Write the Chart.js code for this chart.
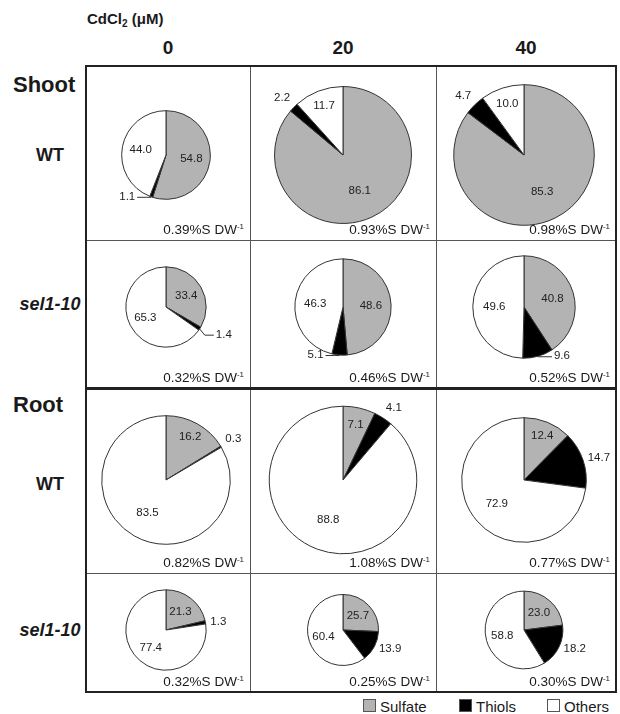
<!DOCTYPE html>
<html>
<head>
<meta charset="utf-8">
<script src="https://cdn.jsdelivr.net/npm/chart.js@4.4.1/dist/chart.umd.min.js"></script>
<style>
  body { margin: 0; background: #fff; }
  #fig { position: relative; width: 620px; height: 714px; font-family: "Liberation Sans", Arial, sans-serif; color: #1a1a1a; overflow: hidden; }
  .t { position: absolute; white-space: nowrap; line-height: 1; }
  .ln { position: absolute; background: #555; z-index: 2; }
  .thick { background: #222; }
  canvas { position: absolute; z-index: 1; }
  sup { font-size: 8px; vertical-align: 5px; }
  sub { font-size: 10px; vertical-align: -3px; }
  .box { position: absolute; width: 11px; height: 11px; border: 1px solid #555; }
</style>
</head>
<body>
<div id="fig"></div>
<script>
// grid: rows = Shoot WT, Shoot sel1-10, Root WT, Root sel1-10 ; cols = CdCl2 dose
const doses = ['0', '20', '40'];
const tissues = ['Shoot', 'Root'];
const genotypes = ['WT', 'sel1-10'];
const fractions = ['Sulfate', 'Thiols', 'Others'];

const sulfate = [[54.8, 86.1, 85.3], [33.4, 48.6, 40.8], [16.2, 7.1, 12.4], [21.3, 25.7, 23.0]];
const thiols  = [[1.1, 2.2, 4.7],    [1.4, 5.1, 9.6],    [0.3, 4.1, 14.7], [1.3, 13.9, 18.2]];
const others  = [[44.0, 11.7, 10.0], [65.3, 46.3, 49.6], [83.5, 88.8, 72.9], [77.4, 60.4, 58.8]];
const totalS  = [[0.39, 0.93, 0.98], [0.32, 0.46, 0.52], [0.82, 1.08, 0.77], [0.32, 0.25, 0.30]];

const COLORS = ['#b3b3b3', '#000000', '#ffffff'];
const FONT = '"Liberation Sans", Arial, sans-serif';

// layout (px)
const colX = [86, 250, 436, 616];
const rowY = [66, 240, 388, 573, 692];
const pieCx = [166, 343, 524];
const pieCy = [155, 307, 480, 630];
const R_SCALE = 71; // pie area proportional to total S

const fig = document.getElementById('fig');

function text(html, x, y, style, align) {
  const d = document.createElement('div');
  d.className = 't';
  d.innerHTML = html;
  d.style.cssText += style;
  d.style.left = x + 'px';
  d.style.top = y + 'px';
  const tx = align === 'left' ? '0' : align === 'right' ? '-100%' : '-50%';
  d.style.transform = `translate(${tx}, -50%)`;
  fig.appendChild(d);
}

function line(x, y, w, h, thick) {
  const d = document.createElement('div');
  d.className = 'ln' + (thick ? ' thick' : '');
  Object.assign(d.style, { left: x + 'px', top: y + 'px', width: w + 'px', height: h + 'px' });
  fig.appendChild(d);
}

// headers
text('CdCl<sub>2</sub> (μM)', 87, 20, 'font-weight:bold;font-size:15px;', 'left');
doses.forEach((d, c) => text(d, (colX[c] + colX[c + 1]) / 2, 47, 'font-weight:bold;font-size:19px;', 'center'));
tissues.forEach((t, i) => text(t, 13, i === 0 ? 85 : 405, 'font-weight:bold;font-size:22px;', 'left'));
[155, 304, 484, 630].forEach((y, r) => {
  const g = genotypes[r % 2];
  text(g, 50, y, 'font-weight:bold;font-size:18px;' + (r % 2 ? 'font-style:italic;' : ''), 'center');
});

// grid lines
const W = colX[3] - colX[0];
line(colX[0], rowY[1], W, 1);
line(colX[0], rowY[3], W, 1);
line(colX[1], rowY[0], 1, rowY[4] - rowY[0]);
line(colX[2], rowY[0], 1, rowY[4] - rowY[0]);
line(colX[0] - 1, rowY[0] - 1, W + 2, 2, true);
line(colX[0] - 1, rowY[4] - 1, W + 2, 2, true);
line(colX[0] - 1, rowY[0] - 1, 2, rowY[4] - rowY[0] + 2, true);
line(colX[3] - 1, rowY[0] - 1, 2, rowY[4] - rowY[0] + 2, true);
line(colX[0] - 1, rowY[2] - 1, W + 2, 3, true);

// slice labels: inside for sulfate/others, outside for thiols
const sliceLabels = {
  id: 'sliceLabels',
  afterDatasetsDraw(chart) {
    const ctx = chart.ctx;
    const arcs = chart.getDatasetMeta(0).data;
    const vals = chart.data.datasets[0].data;
    ctx.save();
    ctx.font = '11.5px ' + FONT;
    ctx.fillStyle = '#222';
    ctx.strokeStyle = '#333';
    ctx.lineWidth = 1;
    arcs.forEach((arc, i) => {
      const p = arc.getProps(['x', 'y', 'startAngle', 'endAngle', 'outerRadius'], true);
      const mid = (p.startAngle + p.endAngle) / 2;
      const cos = Math.cos(mid), sin = Math.sin(mid), r = p.outerRadius;
      const txt = vals[i].toFixed(1);
      if (i !== 1) {
        const f = vals[i] < 20 ? 0.77 : 0.58;
        ctx.textAlign = 'center';
        ctx.textBaseline = 'middle';
        ctx.fillText(txt, p.x + cos * r * f, p.y + sin * r * f);
      } else if (sin > 0.5) {
        const ex = p.x + cos * r, ey = p.y + sin * r;
        const dir = cos < 0 ? -1 : 1;
        const ly = ey + (sin < 0.9 ? 6 : 0);
        ctx.beginPath();
        ctx.moveTo(ex, ey + 0.5);
        ctx.lineTo(ex + dir * 5, ly + 0.5);
        ctx.lineTo(ex + dir * 14, ly + 0.5);
        ctx.stroke();
        ctx.textAlign = dir < 0 ? 'right' : 'left';
        ctx.textBaseline = 'middle';
        ctx.fillText(txt, ex + dir * 16, ly);
      } else {
        const px = p.x + cos * (r + 5), py = p.y + sin * (r + 5);
        ctx.textAlign = cos > 0.3 ? 'left' : cos < -0.3 ? 'right' : 'center';
        ctx.textBaseline = sin < -0.5 ? 'bottom' : sin > 0.5 ? 'top' : 'middle';
        ctx.fillText(txt, px, py);
      }
    });
    ctx.restore();
  }
};

for (let r = 0; r < 4; r++) {
  for (let c = 0; c < 3; c++) {
    const left = colX[c], top = rowY[r];
    const w = colX[c + 1] - left, h = rowY[r + 1] - top;
    const cx = pieCx[c] - left, cy = pieCy[r] - top;
    const pad = {
      left: Math.max(0, 2 * cx - w), right: Math.max(0, w - 2 * cx),
      top: Math.max(0, 2 * cy - h), bottom: Math.max(0, h - 2 * cy)
    };
    const cv = document.createElement('canvas');
    cv.width = w; cv.height = h;
    Object.assign(cv.style, { left: left + 'px', top: top + 'px', width: w + 'px', height: h + 'px' });
    fig.appendChild(cv);
    new Chart(cv, {
      type: 'pie',
      data: {
        labels: fractions,
        datasets: [{
          data: [sulfate[r][c], thiols[r][c], others[r][c]],
          backgroundColor: COLORS,
          borderColor: '#333',
          borderWidth: 1,
          radius: R_SCALE * Math.sqrt(totalS[r][c])
        }]
      },
      options: {
        responsive: false,
        animation: false,
        layout: { padding: pad },
        plugins: { legend: { display: false }, tooltip: { enabled: false } }
      },
      plugins: [sliceLabels]
    });
    text(totalS[r][c].toFixed(2) + '%S DW<sup>-1</sup>', colX[c + 1] - 6, rowY[r + 1] - 10,
      'font-size:13.5px;z-index:3;', 'right');
  }
}

// legend
const legX = [363, 459, 547];
fractions.forEach((f, i) => {
  const b = document.createElement('div');
  b.className = 'box';
  Object.assign(b.style, { left: legX[i] + 'px', top: '699px', background: COLORS[i] });
  fig.appendChild(b);
  text(f, legX[i] + 17, 706, 'font-size:15px;', 'left');
});
</script>
</body>
</html>
